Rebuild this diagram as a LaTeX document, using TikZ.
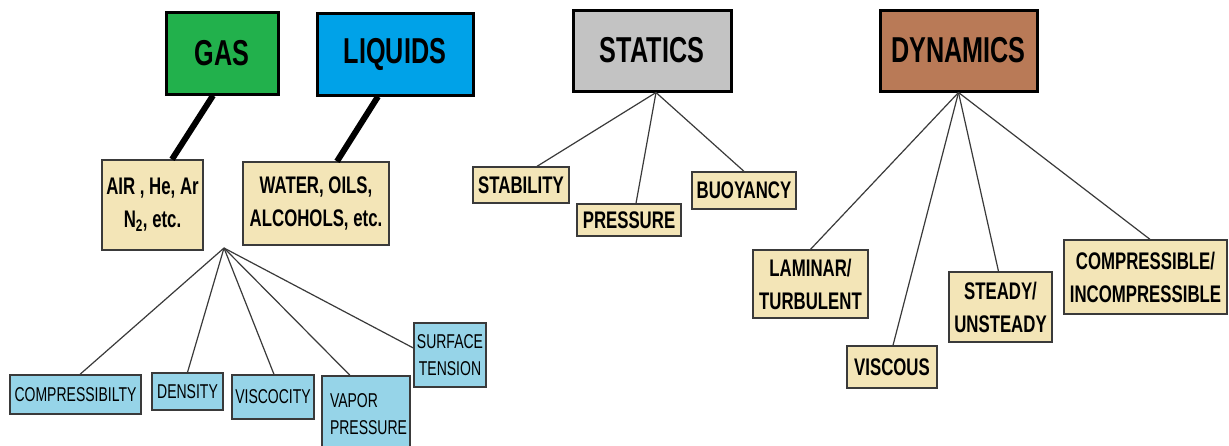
\documentclass[tikz,border=0pt]{standalone}
\usepackage{fontspec}
\setmainfont{Liberation Sans}[FakeStretch=0.7]
\definecolor{gasgreen}{HTML}{22B14C}
\definecolor{liqblue}{HTML}{00A2E8}
\definecolor{statgray}{HTML}{C3C3C3}
\definecolor{dynbrown}{HTML}{B97A57}
\definecolor{tanfill}{HTML}{F3E5B7}
\definecolor{lblue}{HTML}{96D4E8}
\definecolor{edge}{HTML}{3A3A3A}
\begin{document}
\begin{tikzpicture}[x=1pt,y=-1pt,
  head/.style={draw=black, line width=3pt, inner sep=0pt, font=\fontsize{36}{40}\selectfont\bfseries},
  tanbox/.style={draw=edge, fill=tanfill, line width=1.3pt, inner sep=0pt, align=center, font=\fontsize{24}{33}\selectfont\bfseries},
  bluebox/.style={draw=edge, fill=lblue, line width=1.3pt, inner sep=0pt, align=center, font=\fontsize{20}{27}\selectfont},
  fat/.style={line width=6pt, black},
  thin/.style={line width=1.2pt, edge}]
\clip (0,0) rectangle (1229,445);
\fill[white] (0,0) rectangle (1229,445);
% headers
\node[head, fill=gasgreen, minimum width=112pt, minimum height=82pt] (gas) at (222,53) {GAS};
\node[head, fill=liqblue, minimum width=156pt, minimum height=82pt] (liq) at (395,54) {LIQUIDS};
\node[head, fill=statgray, minimum width=158pt, minimum height=81pt] (stat) at (652,50.5) {STATICS};
\node[head, fill=dynbrown, minimum width=157pt, minimum height=81pt] (dyn) at (958.5,50.5) {DYNAMICS};
% tan boxes
\node[tanbox, minimum width=101pt, minimum height=90pt] (air) at (152.5,205) {AIR , He, Ar\\N\textsubscript{2}, etc.};
\node[tanbox, minimum width=146pt, minimum height=83pt] (water) at (316,203.5) {WATER, OILS,\\ALCOHOLS, etc.};
\node[tanbox, minimum width=96pt, minimum height=36pt] (stab) at (521,185) {STABILITY};
\node[tanbox, minimum width=104pt, minimum height=32pt] (press) at (629,220) {PRESSURE};
\node[tanbox, minimum width=104pt, minimum height=37pt] (buoy) at (744,190.5) {BUOYANCY};
\node[tanbox, minimum width=115pt, minimum height=68pt] (lam) at (810.5,284) {LAMINAR/\\TURBULENT};
\node[tanbox, minimum width=90pt, minimum height=42pt] (visc) at (892,367) {VISCOUS};
\node[tanbox, minimum width=103pt, minimum height=70pt] (steady) at (1000.5,307) {STEADY/\\UNSTEADY};
\node[tanbox, minimum width=163pt, minimum height=74pt] (comp) at (1145.5,277) {COMPRESSIBLE/\\INCOMPRESSIBLE};
% blue boxes
\node[bluebox, minimum width=131pt, minimum height=39pt] (compr) at (75.5,394.5) {COMPRESSIBILTY};
\node[bluebox, minimum width=71pt, minimum height=37pt] (dens) at (187.5,391.5) {DENSITY};
\node[bluebox, minimum width=82pt, minimum height=44pt] (visco) at (273,397) {VISCOCITY};
\node[bluebox, align=left, text width=72pt, inner xsep=8pt, minimum height=76pt] (vapor) at (366,414) {VAPOR\\PRESSURE};
\node[bluebox, minimum width=72pt, minimum height=64pt] (surf) at (450,355) {SURFACE\\TENSION};
% connectors
\draw[fat] ([xshift=-9pt]gas.south) -- ([xshift=19.5pt]air.north);
\draw[fat] ([xshift=-17pt]liq.south) -- ([xshift=21pt]water.north);
\coordinate (fan) at (224,248);
\draw[thin] (fan) -- ([xshift=4.5pt]compr.north);
\draw[thin] (fan) -- (dens.north);
\draw[thin] (fan) -- ([xshift=1pt]visco.north);
\draw[thin] (fan) -- ([xshift=-16pt]vapor.north);
\draw[thin] (fan) -- ([yshift=7pt]surf.west);
\draw[thin] ([xshift=4pt]stat.south) -- ([xshift=16pt]stab.north);
\draw[thin] ([xshift=4pt]stat.south) -- ([xshift=7pt]press.north);
\draw[thin] ([xshift=4pt]stat.south) -- (buoy.north);
\draw[thin] (dyn.south) -- (lam.north);
\draw[thin] (dyn.south) -- ([xshift=1pt]visc.north);
\draw[thin] (dyn.south) -- ([xshift=-2pt]steady.north);
\draw[thin] (dyn.south) -- ([xshift=4.5pt]comp.north);
\end{tikzpicture}
\end{document}
